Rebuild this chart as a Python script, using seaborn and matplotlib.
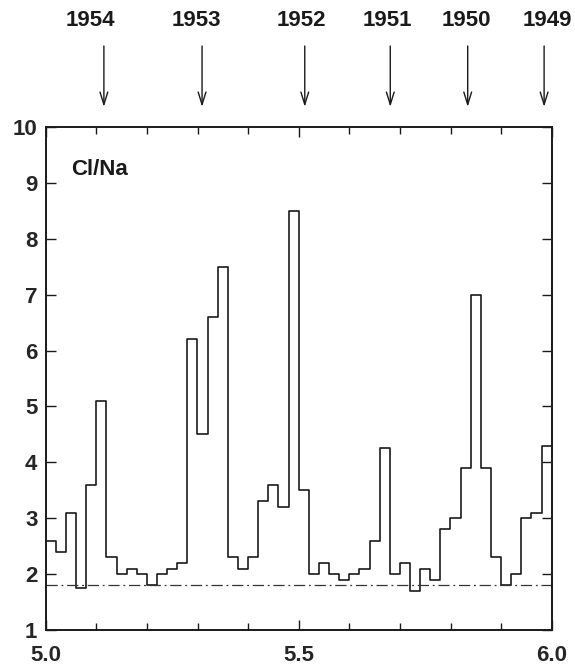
import numpy as np
import pandas as pd
import matplotlib
matplotlib.use("Agg")
import matplotlib.pyplot as plt
from matplotlib.ticker import MultipleLocator, FixedLocator
import seaborn as sns

# Cl/Na ratio in 0.02 m depth intervals from 5.00 to 6.00 m
depth_start = [round(5.0 + 0.02 * i, 2) for i in range(50)]
cl_na = [
    2.6, 2.4, 3.1, 1.75, 3.6, 5.1, 2.3, 2.0, 2.1, 2.0,
    1.8, 2.0, 2.1, 2.2, 6.2, 4.5, 6.6, 7.5, 2.3, 2.1,
    2.3, 3.3, 3.6, 3.2, 8.5, 3.5, 2.0, 2.2, 2.0, 1.9,
    2.0, 2.1, 2.6, 4.25, 2.0, 2.2, 1.7, 2.1, 1.9, 2.8,
    3.0, 3.9, 7.0, 3.9, 2.3, 1.8, 2.0, 3.0, 3.1, 4.3,
]
depth_end = 6.0

# seawater reference ratio
seawater_ratio = 1.8

# annual layer markers (summer maxima)
year_labels = ["1954", "1953", "1952", "1951", "1950", "1949"]
year_depths = [5.115, 5.309, 5.512, 5.681, 5.834, 5.985]
year_label_x = [5.088, 5.298, 5.506, 5.675, 5.831, 5.991]

df = pd.DataFrame({
    "depth": depth_start + [depth_end],
    "ratio": cl_na + [cl_na[-1]],
})

sns.set_style("ticks")
plt.rcParams["font.family"] = ["Liberation Sans", "DejaVu Sans"]

fig = plt.figure(figsize=(5.75, 6.66), dpi=100)
ax = fig.add_axes([45.7 / 575, 1 - 630 / 666, (551.7 - 45.7) / 575, (630 - 127) / 666])

ink = "#1a1a1a"
sns.lineplot(data=df, x="depth", y="ratio", drawstyle="steps-post",
             color=ink, linewidth=1.2, ax=ax, estimator=None, sort=False)
ax.axhline(seawater_ratio, color="#333333", linewidth=0.9,
           linestyle=(0, (9, 3, 1.5, 3)))

ax.set_xlim(5.0, 6.0)
ax.set_ylim(1, 10)
ax.set_xlabel("")
ax.set_ylabel("")

ax.xaxis.set_major_locator(FixedLocator([5.0, 5.5, 6.0]))
ax.xaxis.set_minor_locator(MultipleLocator(0.1))
ax.yaxis.set_major_locator(MultipleLocator(1))
ax.set_xticklabels(["5.0", "5.5", "6.0"])

ax.tick_params(axis="both", which="both", direction="in",
               top=True, right=True, color=ink, width=1.0)
ax.tick_params(axis="x", which="major", length=7, pad=11,
               labelsize=16)
ax.tick_params(axis="x", which="minor", length=5)
ax.tick_params(axis="y", which="major", length=7, pad=6, labelsize=16)
for lab in ax.get_xticklabels() + ax.get_yticklabels():
    lab.set_fontweight("bold")

for s in ax.spines.values():
    s.set_linewidth(1.4)
    s.set_color(ink)

ax.text(0.05, 0.915, "Cl/Na", transform=ax.transAxes, fontsize=16,
        fontweight="bold", ha="left", va="center", color=ink)

trans = ax.get_xaxis_transform()
for lab, xd, xl in zip(year_labels, year_depths, year_label_x):
    ax.annotate("", xy=(xd, 1.040), xycoords=trans,
                xytext=(xd, 1.161), textcoords=trans,
                arrowprops=dict(arrowstyle="->,head_length=0.9,head_width=0.28",
                                color=ink, lw=1.0, shrinkA=0, shrinkB=0),
                annotation_clip=False)
    ax.text(xl, 1.212, lab, transform=trans, ha="center", va="center",
            fontsize=16, fontweight="bold", color=ink, clip_on=False)

fig.savefig("out.png", dpi=100)
